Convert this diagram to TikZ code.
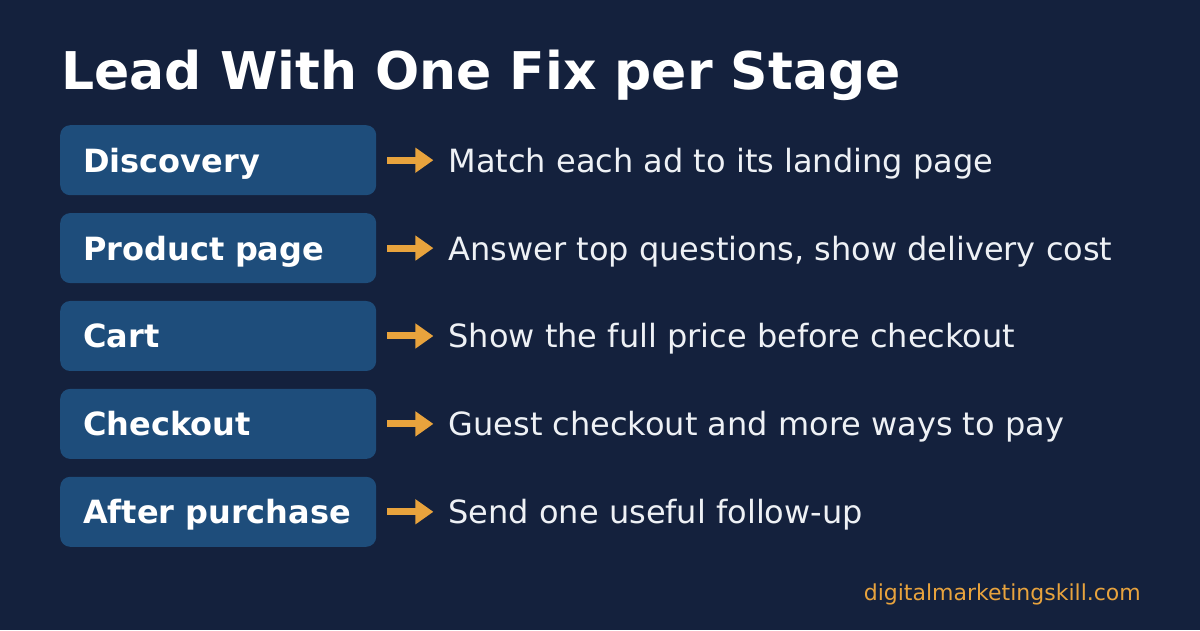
\documentclass[tikz,border=0pt]{standalone}
\usepackage{fontspec}
\setmainfont{DejaVu Sans}
\usetikzlibrary{arrows.meta,positioning}
\definecolor{bgnavy}{HTML}{14213D}
\definecolor{stagefill}{HTML}{1E4D7B}
\definecolor{accent}{HTML}{E8A33D}
\definecolor{fixtext}{HTML}{EEF1F5}

\begin{document}
\begin{tikzpicture}[
  x=1pt,y=1pt,
  node distance=17.5pt and 72pt,
  stagebox/.style={fill=stagefill,rounded corners=10pt,minimum width=316pt,
              minimum height=70pt,text width=270pt,inner xsep=23pt,inner ysep=0pt,
              text height=30pt,text depth=6pt,
              align=left,font=\bfseries\fontsize{32}{38}\selectfont,text=white},
  fix/.style={inner sep=0pt,anchor=west,text height=30pt,text depth=6pt,
              font=\fontsize{32}{38}\selectfont,text=fixtext},
  arr/.style={-{Triangle[length=18pt,width=24pt]},line width=7pt,accent}
]
\fill[bgnavy] (0,0) rectangle (1200,630);
\useasboundingbox (0,0) rectangle (1200,630);

\node[anchor=base west,inner sep=0pt,text=white,
      font=\bfseries\fontsize{52}{60}\selectfont] (title) at (61,540) {Lead With One Fix per Stage};

\node[stagebox,anchor=north west] (discovery) at (60,505) {Discovery};
\node[stagebox,below=of discovery] (product) {Product page};
\node[stagebox,below=of product] (cart) {Cart};
\node[stagebox,below=of cart] (checkout) {Checkout};
\node[stagebox,below=of checkout] (after) {After purchase};

\node[fix,right=of discovery] (fixdiscovery) {Match each ad to its landing page};
\node[fix,right=of product] (fixproduct) {Answer top questions, show delivery cost};
\node[fix,right=of cart] (fixcart) {Show the full price before checkout};
\node[fix,right=of checkout] (fixcheckout) {Guest checkout and more ways to pay};
\node[fix,right=of after] (fixafter) {Send one useful follow-up};

\draw[arr] ([xshift=11pt]discovery.east) -- ([xshift=-15pt]fixdiscovery.west);
\draw[arr] ([xshift=11pt]product.east) -- ([xshift=-15pt]fixproduct.west);
\draw[arr] ([xshift=11pt]cart.east) -- ([xshift=-15pt]fixcart.west);
\draw[arr] ([xshift=11pt]checkout.east) -- ([xshift=-15pt]fixcheckout.west);
\draw[arr] ([xshift=11pt]after.east) -- ([xshift=-15pt]fixafter.west);

\node[anchor=base east,inner sep=0pt,text=accent,font=\fontsize{22}{26}\selectfont]
  (site) at (1141,30) {digitalmarketingskill.com};
\end{tikzpicture}
\end{document}
